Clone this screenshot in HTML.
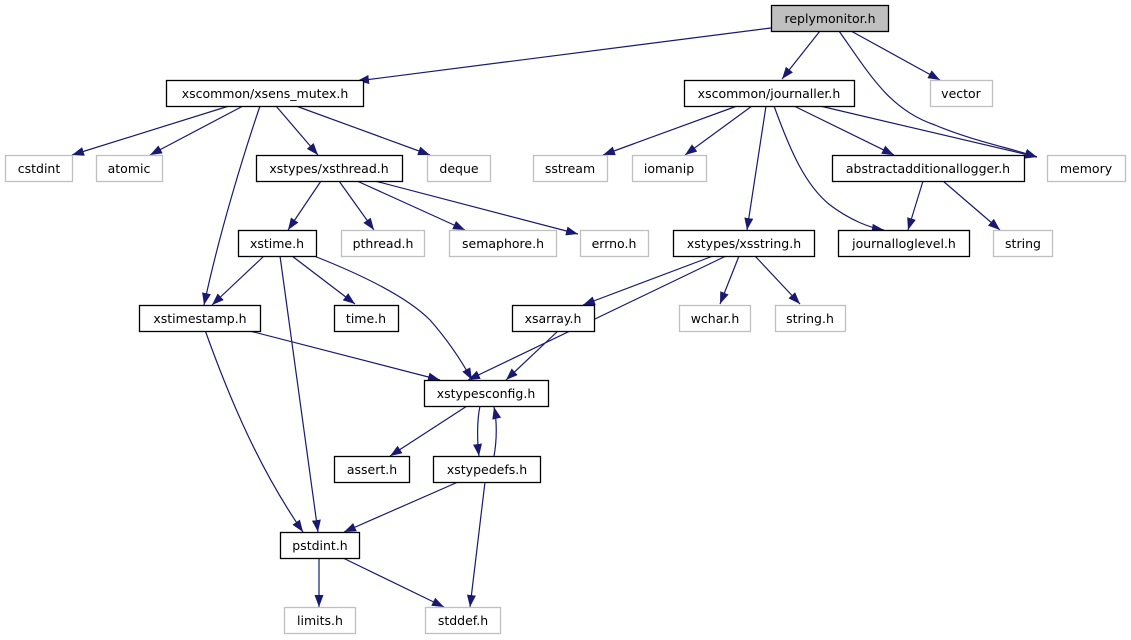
<!DOCTYPE html>
<html><head><meta charset="utf-8"><style>
body{margin:0;background:#fff;}
svg text{font-family:"DejaVu Sans","Liberation Sans",sans-serif;font-size:12.5px;text-anchor:middle;fill:#000;}
</style></head><body>
<svg width="1131" height="635" viewBox="0 0 1131 635" xmlns="http://www.w3.org/2000/svg">
<defs>
<marker id="a" markerUnits="userSpaceOnUse" markerWidth="14" markerHeight="12" refX="12" refY="4.5" orient="auto">
<path d="M0,0 L12,4.5 L0,9 z" fill="#191970"/>
</marker>
</defs>
<g fill="none" stroke="#191970" stroke-width="1.2" marker-end="url(#a)">
<path d="M771,28 L357,81"/>
<path d="M820,31 L782,79"/>
<path d="M839,31 C870,75 890,110 935,125 C970,140 1010,148 1037,157"/>
<path d="M851,31 L940,80"/>
<path d="M229,106 L72,155"/>
<path d="M243,106 L150,155"/>
<path d="M260,106 C245,150 220,230 204,305"/>
<path d="M276,106 L318,155"/>
<path d="M296,106 L430,155"/>
<path d="M737,106 L603,155"/>
<path d="M752,106 L685,155"/>
<path d="M766,106 L747,230"/>
<path d="M774,106 C790,150 805,185 830,205 C850,220 870,228 884,230"/>
<path d="M794,106 L894,155"/>
<path d="M820,106 L1037,157"/>
<path d="M923,181 L908,230"/>
<path d="M943,181 L1000,230"/>
<path d="M321,181 L288,230"/>
<path d="M339,181 L374,230"/>
<path d="M357,181 L465,230"/>
<path d="M375,181 L578,234"/>
<path d="M713,256 L583,305"/>
<path d="M726,256 L468,380"/>
<path d="M739,256 L720,304"/>
<path d="M755,256 L800,304"/>
<path d="M264,256 L212,305"/>
<path d="M280,256 L318,532"/>
<path d="M292,256 L355,304"/>
<path d="M314,256 C370,278 410,300 430,320 C445,337 460,358 472,380"/>
<path d="M246,330 L440,380"/>
<path d="M205,330 C230,400 260,470 303,532"/>
<path d="M559,330 L506,380"/>
<path d="M467,406 L390,456"/>
<path d="M480,406 C477,420 477,440 479,456"/>
<path d="M494,456 C497,440 497,420 494,407"/>
<path d="M458,482 L344,532"/>
<path d="M485,482 L470,607"/>
<path d="M319,558 L319,607"/>
<path d="M343,558 L444,607"/>
</g>
<g stroke-width="1.3">
<rect x="771.5" y="5.5" width="117" height="26" fill="#bfbfbf" stroke="#000"/>
<g fill="#fff" stroke="#000">
<rect x="166.5" y="80.5" width="197" height="26"/>
<rect x="684.5" y="80.5" width="170" height="26"/>
<rect x="256.5" y="155.5" width="146" height="26"/>
<rect x="832.5" y="155.5" width="192" height="26"/>
<rect x="238.5" y="230.5" width="78" height="26"/>
<rect x="673.5" y="230.5" width="141" height="26"/>
<rect x="838.5" y="230.5" width="131" height="26"/>
<rect x="139.5" y="305.5" width="121" height="26"/>
<rect x="334.5" y="305.5" width="64" height="26"/>
<rect x="512.5" y="305.5" width="82" height="26"/>
<rect x="424.5" y="380.5" width="124" height="26"/>
<rect x="334.5" y="456.5" width="75" height="26"/>
<rect x="433.5" y="456.5" width="107" height="26"/>
<rect x="280.5" y="532.5" width="79" height="26"/>
</g>
<g fill="#fff" stroke="#bfbfbf">
<rect x="930.5" y="80.5" width="62" height="26"/>
<rect x="5.5" y="155.5" width="67" height="26"/>
<rect x="96.5" y="155.5" width="66" height="26"/>
<rect x="427.5" y="155.5" width="63" height="26"/>
<rect x="533.5" y="155.5" width="74" height="26"/>
<rect x="632.5" y="155.5" width="74" height="26"/>
<rect x="1047.5" y="155.5" width="78" height="26"/>
<rect x="341.5" y="230.5" width="83" height="26"/>
<rect x="449.5" y="230.5" width="107" height="26"/>
<rect x="580.5" y="230.5" width="68" height="26"/>
<rect x="993.5" y="230.5" width="59" height="26"/>
<rect x="679.5" y="305.5" width="71" height="26"/>
<rect x="775.5" y="305.5" width="70" height="26"/>
<rect x="284.5" y="607.5" width="71" height="26"/>
<rect x="425.5" y="607.5" width="75" height="26"/>
</g>
</g>
<text x="830" y="23">replymonitor.h</text>
<text x="265" y="98">xscommon/xsens_mutex.h</text>
<text x="769" y="98">xscommon/journaller.h</text>
<text x="961" y="98">vector</text>
<text x="39" y="173">cstdint</text>
<text x="129" y="173">atomic</text>
<text x="329" y="173">xstypes/xsthread.h</text>
<text x="459" y="173">deque</text>
<text x="570" y="173">sstream</text>
<text x="669" y="173">iomanip</text>
<text x="928" y="173">abstractadditionallogger.h</text>
<text x="1086" y="173">memory</text>
<text x="277" y="248">xstime.h</text>
<text x="383" y="248">pthread.h</text>
<text x="503" y="248">semaphore.h</text>
<text x="614" y="248">errno.h</text>
<text x="744" y="248">xstypes/xsstring.h</text>
<text x="904" y="248">journalloglevel.h</text>
<text x="1023" y="248">string</text>
<text x="200" y="323">xstimestamp.h</text>
<text x="366" y="323">time.h</text>
<text x="553" y="323">xsarray.h</text>
<text x="715" y="323">wchar.h</text>
<text x="810" y="323">string.h</text>
<text x="486" y="398">xstypesconfig.h</text>
<text x="372" y="474">assert.h</text>
<text x="487" y="474">xstypedefs.h</text>
<text x="320" y="550">pstdint.h</text>
<text x="320" y="625">limits.h</text>
<text x="463" y="625">stddef.h</text>
</svg>
</body></html>
